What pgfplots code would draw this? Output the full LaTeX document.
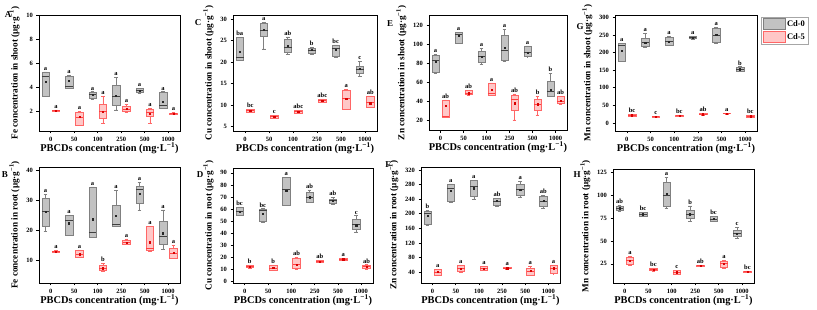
\documentclass[border=0pt]{standalone}
\usepackage{fontspec}
\setmainfont{Liberation Serif}
\usepackage{pgfplots}
\pgfplotsset{compat=1.18}
\usepgfplotslibrary{statistics}

\pgfplotsset{
 gbox/.style={draw=black!50, fill=black!24, line width=0.5pt, boxplot/draw direction=y, boxplot/every median/.style={draw=black!75, line width=0.8pt}},
 rbox/.style={draw=red!60, fill=red!22, line width=0.5pt, boxplot/draw direction=y, boxplot/every median/.style={draw=red!75, line width=0.8pt}},
 gmean/.style={only marks, mark=square*, mark size=0.6pt, black!85},
 rmean/.style={only marks, mark=square*, mark size=0.6pt, red!85!black},
 panel/.style={scale only axis, anchor=north west, xmin=-0.5, xmax=5.5,
   xtick={0,...,5}, xticklabels={0,50,100,250,500,1000},
   tick pos=left, tick align=outside, major tick length=2.5pt,
   axis line style={line width=0.9pt}, tick style={line width=0.6pt, black},
   ticklabel style={font=\bfseries\fontsize{6.5}{7}\selectfont},
   /pgf/number format/assume math mode=true,
   xlabel={PBCDs concentration (mg·L\textsuperscript{−1})},
   xlabel style={font=\bfseries\fontsize{10.4}{11}\selectfont, at={(axis description cs:0.5,0)}, anchor=center, yshift=-17pt},
   ylabel style={font=\bfseries\fontsize{9.2}{10}\selectfont},
   clip=false},
}
\tikzset{lett/.style={anchor=south, inner sep=0.6pt, yshift=0.8pt, font=\bfseries\fontsize{6.5}{7}\selectfont}}

% #1 g/r, #2 position, #3 lower whisker, #4 lower quartile, #5 median, #6 upper quartile, #7 upper whisker, #8 mean, #9 letter
\newcommand{\BX}[9]{%
 \addplot[#1box, boxplot prepared={draw position=#2, lower whisker=#3, lower quartile=#4, median=#5, upper quartile=#6, upper whisker=#7, box extend=0.32, whisker extend=0.16}] coordinates {};
 \addplot[#1mean] coordinates {(#2,#8)};
 \node[lett] at (axis cs:#2,#7) {#9};
}

\begin{document}
\begin{tikzpicture}
\useasboundingbox (0,0) rectangle (817pt,310pt);

% ---------------- A: Fe shoot
\begin{axis}[panel, at={(39pt,295pt)}, width=141pt, height=116pt, ymin=0.4, ymax=10, ytick={2,4,6,8,10},
  ylabel={Fe concentration in shoot (μg·g\textsuperscript{−1})}]
\BX{g}{-0.22}{3.3}{3.3}{4.9}{5.3}{5.3}{4.5}{a}
\BX{r}{0.22}{2.05}{2.06}{2.1}{2.13}{2.14}{2.1}{a}
\BX{g}{0.78}{3.9}{3.95}{4.05}{4.95}{5.0}{4.55}{a}
\BX{r}{1.22}{0.85}{0.9}{1.5}{1.95}{2.0}{1.55}{a}
\BX{g}{1.78}{3.05}{3.1}{3.45}{3.6}{3.65}{3.4}{a}
\BX{r}{2.22}{1.05}{1.45}{2.0}{2.6}{3.25}{2.0}{a}
\BX{g}{2.78}{2.15}{2.5}{3.3}{4.2}{4.85}{3.3}{a}
\BX{r}{3.22}{1.95}{2.0}{2.2}{2.45}{2.6}{2.25}{a}
\BX{g}{3.78}{3.5}{3.6}{3.75}{3.9}{3.95}{3.75}{a}
\BX{r}{4.22}{1.05}{1.6}{1.9}{2.2}{2.25}{1.85}{a}
\BX{g}{4.78}{2.25}{2.3}{2.5}{3.6}{3.65}{2.85}{a}
\BX{r}{5.22}{1.8}{1.82}{1.85}{1.9}{1.92}{1.85}{a}
\end{axis}

% ---------------- C: Cu shoot
\begin{axis}[panel, at={(233pt,295pt)}, width=144pt, height=116pt, ymin=3.9, ymax=31, ytick={5,10,...,30},
  ylabel={Cu concentration in shoot (μg·g\textsuperscript{−1})}]
\BX{g}{-0.22}{20.4}{20.5}{21.0}{25.7}{25.8}{22.5}{ba}
\BX{r}{0.22}{8.2}{8.3}{8.6}{8.9}{9.0}{8.6}{bc}
\BX{g}{0.78}{23.1}{26.0}{27.5}{29.0}{29.3}{27.6}{a}
\BX{r}{1.22}{6.8}{6.9}{7.2}{7.5}{7.6}{7.2}{c}
\BX{g}{1.78}{21.8}{22.2}{23.5}{25.4}{25.9}{23.9}{ab}
\BX{r}{2.22}{8.0}{8.1}{8.4}{8.7}{8.8}{8.4}{abc}
\BX{g}{2.78}{21.9}{22.0}{22.8}{23.3}{23.4}{22.8}{b}
\BX{r}{3.22}{10.6}{10.7}{11.0}{11.3}{11.4}{11.0}{abc}
\BX{g}{3.78}{21.2}{21.3}{23.2}{23.9}{24.0}{22.8}{bc}
\BX{r}{4.22}{8.9}{9.0}{11.5}{13.5}{13.6}{11.5}{a}
\BX{g}{4.78}{16.6}{17.4}{18.3}{19.0}{20.2}{18.4}{c}
\BX{r}{5.22}{9.4}{9.5}{10.5}{12.0}{12.1}{10.4}{ab}
\end{axis}

% ---------------- E: Zn shoot
\begin{axis}[panel, at={(429pt,294.5pt)}, width=138pt, height=115pt, ymin=9.5, ymax=130, ytick={20,40,...,120},
  ylabel={Zn concentration in shoot (μg·g\textsuperscript{−1})}]
\BX{g}{-0.22}{70}{70.2}{83.4}{88.6}{89}{81.7}{a}
\BX{r}{0.22}{23.5}{23.6}{24.2}{41.6}{41.7}{35.3}{ab}
\BX{g}{0.78}{100.5}{100.8}{110}{112.3}{112.6}{108.5}{a}
\BX{r}{1.22}{46.8}{47}{48.6}{51.2}{51.4}{48.6}{ab}
\BX{g}{1.78}{78.9}{81}{87}{92.8}{95.6}{86.9}{a}
\BX{r}{2.22}{46.1}{46.5}{48}{59}{59.3}{52}{a}
\BX{g}{2.78}{81.7}{82.7}{93.2}{108.9}{115.5}{96.3}{a}
\BX{r}{3.22}{20.7}{30.5}{42.3}{46.1}{47.9}{38.1}{ab}
\BX{g}{3.78}{86.9}{87}{91}{98}{98.2}{91.4}{a}
\BX{r}{4.22}{25.9}{31.1}{37}{42.3}{45.1}{37.1}{b}
\BX{g}{4.78}{45.1}{45.3}{50.3}{60.8}{69.5}{52}{b}
\BX{r}{5.22}{37.4}{37.6}{40}{45.1}{45.3}{40.6}{ab}
\end{axis}

% ---------------- G: Mn shoot
\begin{axis}[panel, at={(615pt,295pt)}, width=142pt, height=116pt, ymin=-23, ymax=307, ytick={0,50,...,300},
  ylabel={Mn concentration in shoot (μg·g\textsuperscript{−1})},
  legend style={at={(1.027,0.985)}, anchor=north west, draw=black!35, line width=0.4pt,
    font=\bfseries\fontsize{8.5}{9}\selectfont, inner sep=1.5pt, row sep=1.5pt, cells={anchor=west}}]
\addlegendimage{legend image code/.code={\draw[draw=black!50, fill=black!24, line width=0.5pt] (0pt,-5.5pt) rectangle (22pt,5.5pt);}}
\addlegendentry{Cd-0}
\addlegendimage{legend image code/.code={\draw[draw=red!60, fill=red!22, line width=0.5pt] (0pt,-5.5pt) rectangle (22pt,5.5pt);}}
\addlegendentry{Cd-5}
\BX{g}{-0.22}{174}{175}{221}{226}{227}{205}{a}
\BX{r}{0.22}{19}{20}{22}{24}{24.5}{22}{bc}
\BX{g}{0.78}{216}{217}{228}{242}{254.5}{229}{a}
\BX{r}{1.22}{15.5}{16}{17.3}{19}{19.5}{17.3}{c}
\BX{g}{1.78}{221}{222}{232}{245}{246}{231.7}{a}
\BX{r}{2.22}{19}{19.5}{21}{22.5}{23}{21}{bc}
\BX{g}{2.78}{239}{240}{243}{246}{247}{243}{a}
\BX{r}{3.22}{23}{23.5}{24.9}{26.5}{27}{24.9}{ab}
\BX{g}{3.78}{228}{229}{250}{270}{271}{250}{a}
\BX{r}{4.22}{26}{26.3}{26.8}{27.5}{28}{26.8}{a}
\BX{g}{4.78}{147}{148}{153}{159}{160}{153}{b}
\BX{r}{5.22}{17}{17.5}{19}{20.5}{21}{19}{bc}
\end{axis}

% ---------------- B: Fe root
\begin{axis}[panel, at={(39pt,143pt)}, width=141pt, height=116pt, ymin=2.4, ymax=41, ytick={10,20,30,40},
  ylabel={Fe concentration in root (μg·g\textsuperscript{−1})}]
\BX{g}{-0.22}{19.6}{21.3}{26.3}{30.6}{32}{26}{a}
\BX{r}{0.22}{12.6}{12.7}{12.9}{13.1}{13.2}{12.9}{a}
\BX{g}{0.78}{18.2}{18.3}{23.3}{24.9}{25.0}{22.3}{a}
\BX{r}{1.22}{10.9}{11.0}{12.0}{13.3}{13.4}{12.0}{a}
\BX{g}{1.78}{17.5}{17.6}{19.2}{34.3}{34.4}{23.6}{a}
\BX{r}{2.22}{6.3}{6.5}{7.3}{8.4}{8.9}{7.3}{b}
\BX{g}{2.78}{21.2}{21.3}{21.9}{28.4}{33.3}{24.8}{a}
\BX{r}{3.22}{15.2}{15.3}{15.8}{16.6}{17.1}{15.8}{a}
\BX{g}{3.78}{26.5}{29.0}{33.5}{34.7}{35.8}{32}{a}
\BX{r}{4.22}{13.0}{13.3}{13.8}{21.2}{21.3}{16}{a}
\BX{g}{4.78}{13.5}{15.3}{17.9}{22.9}{26.7}{19}{a}
\BX{r}{5.22}{10.5}{10.6}{12.2}{14.1}{14.9}{12.4}{a}
\end{axis}

% ---------------- D: Cu root
\begin{axis}[panel, at={(233pt,142pt)}, width=140pt, height=115pt, ymin=-1, ymax=94, ytick={0,10,...,90},
  ylabel={Cu concentration in root (μg·g\textsuperscript{−1})}]
\BX{g}{-0.22}{55}{55.2}{58}{61.6}{61.8}{58}{bc}
\BX{r}{0.22}{11.4}{11.6}{12.3}{13.4}{13.6}{12.3}{b}
\BX{g}{0.78}{49.5}{49.6}{59.3}{60.2}{60.4}{56.5}{bc}
\BX{r}{1.22}{9.5}{9.7}{11.4}{13.4}{13.6}{11.4}{b}
\BX{g}{1.78}{63.5}{63.6}{76.3}{86}{86.2}{75.5}{a}
\BX{r}{2.22}{10.6}{10.8}{14.2}{19.8}{20}{14.2}{ab}
\BX{g}{2.78}{65.7}{65.8}{69.5}{74.1}{76}{69.9}{ab}
\BX{r}{3.22}{16.4}{16.5}{16.9}{17.5}{17.6}{16.9}{ab}
\BX{g}{3.78}{64.3}{64.5}{66.9}{68.5}{69.9}{66.9}{ab}
\BX{r}{4.22}{18.1}{18.2}{18.7}{19.2}{19.3}{18.7}{a}
\BX{g}{4.78}{41.2}{43.5}{47}{51.3}{54.6}{46.8}{c}
\BX{r}{5.22}{10.6}{10.8}{12.3}{13.9}{14.1}{12.3}{ab}
\end{axis}

% ---------------- F: Zn root
\begin{axis}[panel, at={(421pt,143pt)}, width=139pt, height=116pt, ymin=10, ymax=328, ytick={40,80,...,320},
  ylabel={Zn concentration in root (μg·g\textsuperscript{−1})}]
\BX{g}{-0.22}{169}{170}{202}{208}{209}{193.5}{b}
\BX{r}{0.22}{31}{31.5}{40}{47.6}{48}{40}{a}
\BX{g}{0.78}{232}{233}{269.6}{281.5}{282}{263}{a}
\BX{r}{1.22}{40}{41}{49.5}{58.7}{59}{49.5}{a}
\BX{g}{1.78}{239}{246.6}{276}{290.7}{292}{269.6}{a}
\BX{r}{2.22}{44}{44.5}{49.6}{56}{56.5}{49.6}{a}
\BX{g}{2.78}{221}{224.3}{235}{241.6}{243}{235.3}{ab}
\BX{r}{3.22}{49}{49.3}{50.5}{52}{52.3}{50.5}{a}
\BX{g}{3.78}{245.8}{251.8}{266.6}{281.4}{288.5}{264.8}{a}
\BX{r}{4.22}{31.8}{32}{43}{50.3}{55}{43}{a}
\BX{g}{4.78}{216}{220}{235}{248}{251}{235}{ab}
\BX{r}{5.22}{35.9}{36}{50}{59}{59.3}{50.4}{a}
\end{axis}

% ---------------- H: Mn root
\begin{axis}[panel, at={(613pt,141pt)}, width=141pt, height=114pt, ymin=4, ymax=128.7, ytick={25,50,...,125},
  ylabel={Mn concentration in root (μg·g\textsuperscript{−1})}]
\BX{g}{-0.22}{83}{83.2}{86}{88.4}{88.6}{85.8}{ab}
\BX{r}{0.22}{23.5}{24.6}{28.3}{32}{33.5}{28.3}{a}
\BX{g}{0.78}{77.2}{77.4}{79.2}{81}{81.2}{79.2}{bc}
\BX{r}{1.22}{17.3}{17.5}{18.8}{20.4}{20.6}{18.8}{bc}
\BX{g}{1.78}{85.8}{87.6}{100}{114.4}{119.5}{101.6}{a}
\BX{r}{2.22}{13.6}{13.8}{15.8}{17.8}{18}{15.8}{c}
\BX{g}{2.78}{71.2}{74.8}{79}{84}{88.4}{79.2}{b}
\BX{r}{3.22}{22.4}{22.5}{23}{23.5}{23.6}{23}{ab}
\BX{g}{3.78}{71.2}{71.4}{74}{76.6}{76.8}{74}{bc}
\BX{r}{4.22}{19.9}{21.7}{25.4}{28.3}{29}{25.4}{a}
\BX{g}{4.78}{52.8}{55.4}{58.3}{62}{65}{58.3}{c}
\BX{r}{5.22}{15.8}{16}{16.5}{17.1}{17.3}{16.5}{bc}
\end{axis}

% panel letters
\begin{scope}[every node/.style={font=\bfseries\fontsize{9}{9}\selectfont}]
\node at (8pt,295pt) {A};
\node at (198pt,287pt) {C};
\node at (390pt,286pt) {E};
\node at (580pt,283pt) {G};
\node at (5pt,135pt) {B};
\node at (200pt,135pt) {D};
\node at (388pt,145pt) {F};
\node at (577pt,135pt) {H};
\end{scope}
\end{tikzpicture}
\end{document}
